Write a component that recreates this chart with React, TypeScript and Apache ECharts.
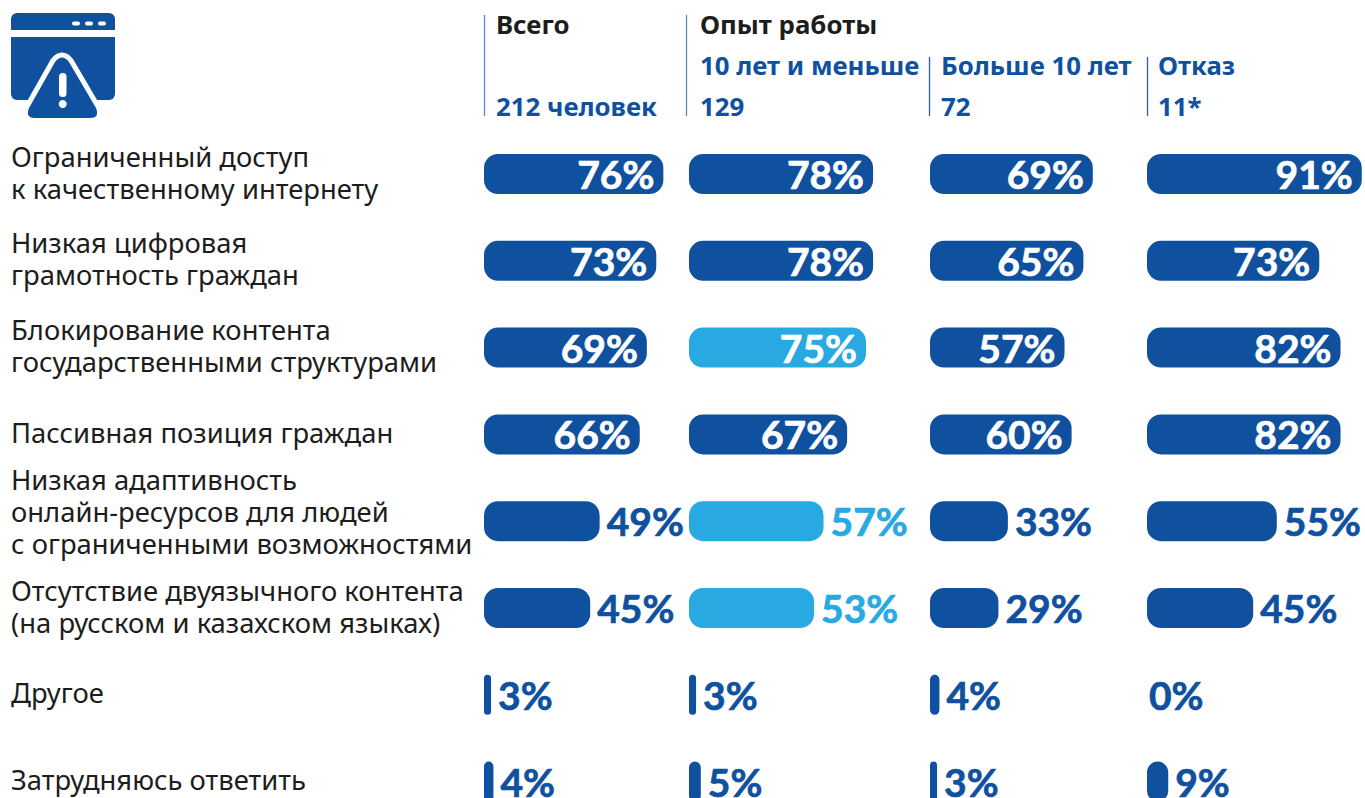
import React, { useEffect, useRef } from "react";
import * as echarts from "echarts";

const categories = [
  "Ограниченный доступ\nк качественному интернету",
  "Низкая цифровая\nграмотность граждан",
  "Блокирование контента\nгосударственными структурами",
  "Пассивная позиция граждан",
  "Низкая адаптивность\nонлайн-ресурсов для людей\nс ограниченными возможностями",
  "Отсутствие двуязычного контента\n(на русском и казахском языках)",
  "Другое",
  "Затрудняюсь ответить",
];
const total = [76, 73, 69, 66, 49, 45, 3, 4];
const under10 = [78, 78, 75, 67, 57, 53, 3, 5];
const over10 = [69, 65, 57, 60, 33, 29, 4, 3];
const refusal = [91, 73, 82, 82, 55, 45, 0, 9];
const under10Highlighted = [2, 4, 5];

const BLUE = "#0f519f";
const LIGHT = "#29a9e2";
const INK = "#1d1d1b";
const LABEL_FONT = "'Noto Sans'";
const VALUE_FONT = "Lato";

const columns = [
  { values: total, left: 484, inside: 60, hi: [] as number[] },
  { values: under10, left: 689, inside: 60, hi: under10Highlighted },
  { values: over10, left: 930, inside: 50, hi: [] as number[] },
  { values: refusal, left: 1147, inside: 60, hi: [] as number[] },
];

const headers = [
  { t: "Всего", x: 496, y: 24, c: INK },
  { t: "212 человек", x: 496, y: 106, c: BLUE },
  { t: "Опыт работы", x: 700, y: 24, c: INK },
  { t: "10 лет и меньше", x: 700, y: 65, c: BLUE },
  { t: "129", x: 700, y: 106, c: BLUE },
  { t: "Больше 10 лет", x: 941, y: 65, c: BLUE },
  { t: "72", x: 941, y: 106, c: BLUE },
  { t: "Отказ", x: 1158, y: 65, c: BLUE },
  { t: "11*", x: 1158, y: 106, c: BLUE },
];
const rules = [
  { x: 484, y1: 15, y2: 116, c: "#5a88c4" },
  { x: 686, y1: 15, y2: 116, c: "#5a88c4" },
  { x: 929, y1: 57, y2: 116, c: "#2a62a8" },
  { x: 1147, y1: 57, y2: 116, c: "#2a62a8" },
];

echarts.graphic.registerShape(
  "alertTriangle",
  echarts.graphic.extendPath(
    "M55 62 Q62 53 69 62 L96 108 Q100 118 90 118 L35 118 Q25 118 29 108 Z",
    {}
  )
);

export default function App() {
  const ref = useRef<HTMLDivElement>(null);
  useEffect(() => {
    document.body.style.margin = "0";
    const chart = echarts.init(ref.current!, undefined, { renderer: "svg" });
    const top = 130.6;
    const height = 694.4;
    const graphic: any[] = [
      { type: "rect", shape: { x: 11, y: 13, width: 104, height: 17, r: [6, 6, 0, 0] }, style: { fill: BLUE } },
      ...[72, 85, 98].map((x) => ({
        type: "rect",
        shape: { x, y: 21.5, width: 8, height: 4, r: 2 },
        style: { fill: "#fff" },
      })),
      { type: "rect", shape: { x: 11, y: 37, width: 104, height: 63, r: [0, 0, 6, 6] }, style: { fill: BLUE } },
      { type: "alertTriangle", style: { fill: BLUE, stroke: "#fff", lineWidth: 10, lineJoin: "round" } },
      { type: "alertTriangle", style: { fill: BLUE } },
      { type: "rect", shape: { x: 59, y: 73, width: 7.5, height: 24, r: 3.5 }, style: { fill: "#fff" } },
      { type: "circle", shape: { cx: 62.7, cy: 104, r: 4 }, style: { fill: "#fff" } },
      ...rules.map((r) => ({
        type: "line",
        shape: { x1: r.x + 0.5, y1: r.y1, x2: r.x + 0.5, y2: r.y2 },
        style: { stroke: r.c, lineWidth: 1.3 },
      })),
      ...headers.map((h) => ({
        type: "text",
        x: h.x,
        y: h.y,
        style: {
          text: h.t,
          fill: h.c,
          font: `700 25.8px ${LABEL_FONT}`,
          verticalAlign: "middle",
        },
      })),
    ];
    chart.setOption({
      animation: false,
      graphic,
      grid: columns.map((c) => ({ left: c.left, top, width: 236, height, outerBoundsMode: "none", containLabel: false })),
      xAxis: columns.map((_, i) => ({ type: "value", gridIndex: i, min: 0, max: 100, show: false })),
      yAxis: columns.map((_, i) => ({
        type: "category",
        gridIndex: i,
        inverse: true,
        data: categories,
        axisLine: { show: false },
        axisTick: { show: false },
        splitLine: { show: false },
        axisLabel:
          i === 0
            ? {
                show: true,
                margin: 473,
                align: "left",
                interval: 0,
                color: INK,
                formatter: (value: string) => {
                  const lines = value.split("\n");
                  const gap = lines.length === 3 ? "gapLarge" : "gapSmall";
                  return lines.map((l) => `{line|${l}}`).join("\n") + `\n{${gap}| }`;
                },
                rich: {
                  line: { fontFamily: LABEL_FONT, fontSize: 27.4, lineHeight: 32, color: INK, align: "left" },
                  gapSmall: { fontSize: 2, lineHeight: 4 },
                  gapLarge: { fontSize: 2, lineHeight: 19 },
                },
              }
            : { show: false },
      })),
      series: columns.map((c, i) => ({
        type: "bar",
        xAxisIndex: i,
        yAxisIndex: i,
        barWidth: 40,
        silent: true,
        itemStyle: { borderRadius: 14, color: BLUE },
        data: c.values.map((v, idx) => {
          const color = c.hi.includes(idx) ? LIGHT : BLUE;
          const inside = v >= c.inside;
          return {
            value: v,
            itemStyle: { color },
            label: {
              show: true,
              formatter: `${v}%`,
              position: inside ? "insideRight" : "right",
              distance: inside ? 9 : v === 0 ? 2 : 7,
              color: inside ? "#fff" : color,
              fontFamily: VALUE_FONT,
              fontWeight: 700,
              fontSize: 39,
              textBorderColor: inside ? "#fff" : color,
              textBorderWidth: 0.7,
            },
          };
        }),
      })),
    });
    return () => chart.dispose();
  }, []);
  return <div ref={ref} style={{ width: 1365, height: 798, overflow: "hidden" }} />;
}
